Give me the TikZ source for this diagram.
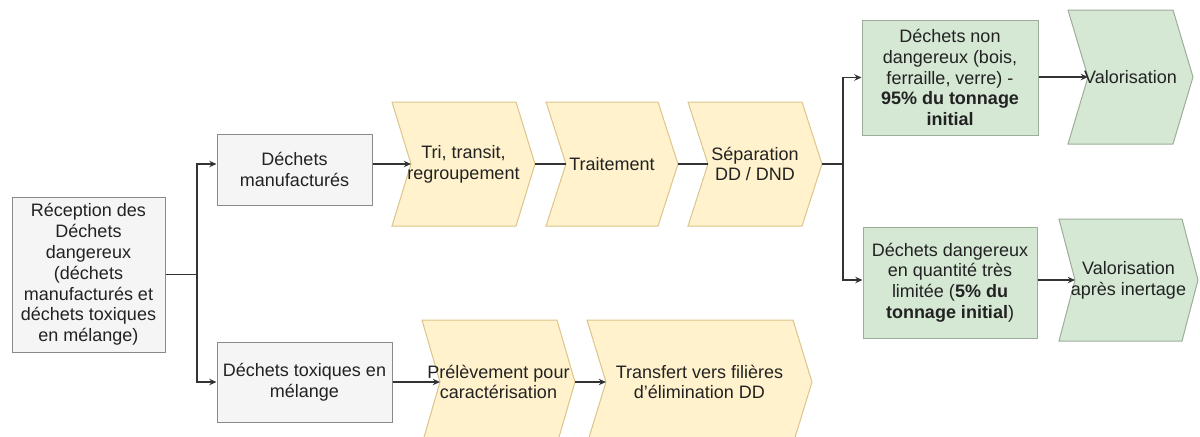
\documentclass[tikz,border=0pt]{standalone}
\usepackage{fontspec}
\setmainfont{Liberation Sans}
\usetikzlibrary{arrows.meta,calc}
\definecolor{grayfill}{HTML}{F5F5F5}
\definecolor{graystroke}{HTML}{8A8A8A}
\definecolor{yelfill}{HTML}{FFF2CC}
\definecolor{yelstroke}{HTML}{DCC58A}
\definecolor{grnfill}{HTML}{D5E8D4}
\definecolor{grnstroke}{HTML}{9DAE98}
\definecolor{txt}{HTML}{222222}
\definecolor{linec}{HTML}{333333}
\newcommand{\mkchev}[8]{%
  \draw[#7] (#2,#4) -- ({#3-#6},#4) -- (#3,{(#4+#5)/2}) -- ({#3-#6},#5) -- (#2,#5) -- ({#2+#6},{(#4+#5)/2}) -- cycle;
  \coordinate (#1-n) at ({#2+#6},{(#4+#5)/2});
  \coordinate (#1-t) at (#3,{(#4+#5)/2});
  \node[chevtext] (#1) at ({(#2+#3)/2},{(#4+#5)/2}) {#8};
}
\begin{document}
\begin{tikzpicture}[x=0.5pt,y=-0.5pt,
  font=\fontsize{9}{10.4}\selectfont,
  gbox/.style={draw=graystroke, fill=grayfill, line width=0.5pt, align=center, text=txt, inner sep=0pt},
  grbox/.style={draw=grnstroke, fill=grnfill, line width=0.5pt, align=center, text=txt, inner sep=0pt},
  ychev/.style={draw=yelstroke, fill=yelfill, line width=0.5pt},
  gchev/.style={draw=grnstroke, fill=grnfill, line width=0.5pt},
  chevtext/.style={align=center, text=txt, inner sep=0pt},
  conn/.style={draw=linec, line width=0.6pt},
  arr/.style={conn, -{Stealth[length=3.6pt,width=3.2pt]}}]
\useasboundingbox (0,0) rectangle (1200,436);

% left boxes
\node[gbox, minimum width=76.5pt, minimum height=77.5pt] (rec) at (88.5,274.5)
  {Réception des\\Déchets\\dangereux\\(déchets\\manufacturés et\\déchets toxiques\\en mélange)};
\node[gbox, minimum width=77.5pt, minimum height=35.5pt] (dm) at (294.5,169.5)
  {Déchets\\manufacturés};
\node[gbox, minimum width=87.5pt, minimum height=40pt] (dt) at (304.5,382)
  {Déchets toxiques en\\mélange};

% chevrons
\mkchev{tri}{392}{535}{102}{226}{19}{ychev}{Tri, transit,\\regroupement}
\mkchev{trt}{546}{678}{102}{226}{20}{ychev}{Traitement}
\mkchev{sep}{688}{822}{102}{226}{20}{ychev}{Séparation\\DD / DND}
\mkchev{pre}{422}{575}{320}{444}{18}{ychev}{Prélèvement pour\\caractérisation}
\mkchev{tra}{587}{812}{320}{444}{19}{ychev}{Transfert vers filières\\d'élimination DD}
\mkchev{val}{1068}{1193}{10}{144}{20}{gchev}{Valorisation}
\mkchev{vai}{1059}{1198}{219}{341}{16}{gchev}{Valorisation\\après inertage}

% right boxes
\node[grbox, minimum width=88pt, minimum height=57.5pt] (dnd) at (950,77.5)
  {Déchets non\\dangereux (bois,\\ferraille, verre) -\\\textbf{95\% du tonnage}\\\textbf{initial}};
\node[grbox, minimum width=87pt, minimum height=55.5pt] (dd) at (950,282.5)
  {Déchets dangereux\\en quantité très\\limitée (\textbf{5\% du}\\\textbf{tonnage initial})};

% connectors
\coordinate (jl) at (197,274.5);
\coordinate (jr) at (843,164);
\draw[conn] (rec.east) -- (jl);
\draw[arr] (jl) |- (dm.west |- tri-n);
\draw[arr] (jl) |- (dt.west);
\draw[arr] (dm.east |- tri-n) -- (tri-n);
\draw[conn] (tri-t) -- (trt-n);
\draw[conn] (trt-t) -- (sep-n);
\draw[arr] (dt.east) -- (pre-n);
\draw[arr] (pre-t) -- (tra-n);
\draw[conn] (sep-t) -- (jr);
\draw[arr] (jr) |- (dnd.west);
\draw[arr] (jr) |- (dd.west |- vai-n);
\draw[arr] (dnd.east |- val-n) -- (val-n);
\draw[arr] (dd.east |- vai-n) -- (vai-n);
\end{tikzpicture}
\end{document}
